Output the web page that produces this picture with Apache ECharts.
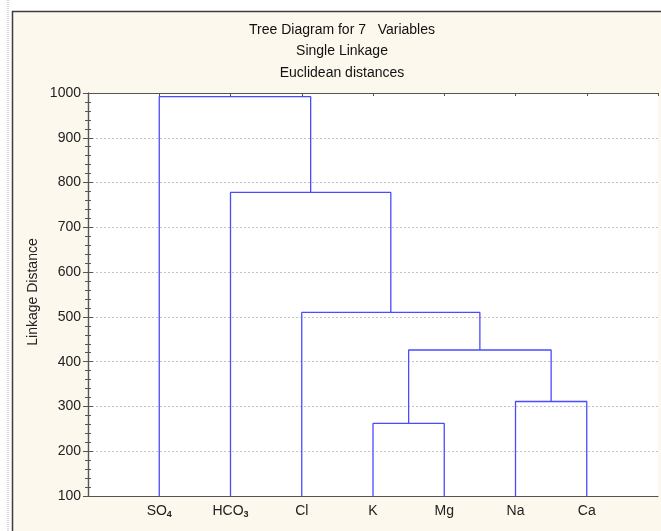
<!DOCTYPE html>
<html>
<head>
<meta charset="utf-8">
<script src="https://cdn.jsdelivr.net/npm/echarts@6/dist/echarts.min.js"></script>
<style>
  html, body { margin: 0; padding: 0; background: #ffffff; }
  #chart { width: 661px; height: 531px; }
</style>
</head>
<body>
<div id="chart"></div>
<script>
// Variables in dendrogram leaf order (trailing digits are drawn as subscripts)
const leafNames = ['SO4', 'HCO3', 'Cl', 'K', 'Mg', 'Na', 'Ca'];

// Agglomeration steps: ids 0..6 are leaves, step k creates cluster id 7 + k
const mergeLeft   = [3, 5, 7, 2, 1, 0];
const mergeRight  = [4, 6, 8, 9, 10, 11];
const mergeHeight = [262, 311, 426, 510, 778, 992];

// Linkage distance axis
const yMin = 100, yMax = 1000, yStep = 100;

const FONT = '"Liberation Sans", Arial, sans-serif';
const LINK_COLOR = '#4a4aff';
const AXIS_COLOR = '#555555';

// Position of every node: leaves at 1..n, clusters at the mean of their children
const nodeX = leafNames.map((_, i) => i + 1);
const nodeY = leafNames.map(() => yMin);
mergeLeft.forEach((a, k) => {
  const b = mergeRight[k];
  nodeX.push((nodeX[a] + nodeX[b]) / 2);
  nodeY.push(mergeHeight[k]);
});

// One bracket-shaped polyline per merge
const linkSeries = mergeLeft.map((a, k) => {
  const b = mergeRight[k];
  const h = mergeHeight[k];
  return {
    type: 'line',
    xAxisIndex: 0,
    yAxisIndex: 0,
    symbol: 'none',
    silent: true,
    animation: false,
    lineStyle: { color: LINK_COLOR, width: 1.3 },
    data: [[nodeX[a], nodeY[a]], [nodeX[a], h], [nodeX[b], h], [nodeX[b], nodeY[b]]]
  };
});

function leafLabel(v) {
  const i = Math.round(v) - 1;
  if (i < 0 || i >= leafNames.length || Math.abs(v - (i + 1)) > 1e-6) return '';
  const m = leafNames[i].match(/^(.*?)(\d+)$/);
  // plain names get an empty spacer with the same box as a subscript, so all baselines line up
  return m ? '{n|' + m[1] + '}{s|' + m[2] + '}' : '{n|' + leafNames[i] + '}{z| }';
}

const chart = echarts.init(document.getElementById('chart'), null, { renderer: 'canvas' });

chart.setOption({
  backgroundColor: '#ffffff',
  animation: false,
  graphic: [
    // outer panel
    {
      type: 'rect', z: -10, silent: true,
      shape: { x: 12.5, y: 11.5, width: 660, height: 530 },
      style: { fill: '#fdf8ed', stroke: '#3c3c3c', lineWidth: 1.5 }
    },
    {
      type: 'line', z: -10, silent: true,
      shape: { x1: 8, y1: 0, x2: 8, y2: 531 },
      style: { stroke: '#c8c8c8', lineWidth: 1.5, lineDash: [1, 1] }
    },
    // three-line heading
    {
      type: 'text', silent: true,
      style: {
        x: 342, y: 30, text: 'Tree Diagram for 7   Variables',
        align: 'center', verticalAlign: 'middle',
        font: '14px ' + FONT, fill: '#111111'
      }
    },
    {
      type: 'text', silent: true,
      style: {
        x: 342, y: 51.5, text: 'Single Linkage',
        align: 'center', verticalAlign: 'middle',
        font: '14px ' + FONT, fill: '#111111'
      }
    },
    {
      type: 'text', silent: true,
      style: {
        x: 342, y: 73, text: 'Euclidean distances',
        align: 'center', verticalAlign: 'middle',
        font: '14px ' + FONT, fill: '#111111'
      }
    },
    // vertical axis title
    {
      type: 'text', silent: true,
      x: 33, y: 292, rotation: Math.PI / 2,
      style: {
        x: 0, y: 0, text: 'Linkage Distance',
        align: 'center', verticalAlign: 'middle',
        font: '14px ' + FONT, fill: '#222222'
      }
    }
  ],
  grid: {
    left: 88, right: 3, top: 93, bottom: 35,
    show: true, backgroundColor: '#ffffff', borderWidth: 0
  },
  xAxis: [
    {
      type: 'value', position: 'bottom',
      min: 0, max: leafNames.length + 1, interval: 1,
      axisLine: { show: true, lineStyle: { color: AXIS_COLOR, width: 1.2 } },
      axisTick: { show: false },
      splitLine: { show: false },
      axisLabel: {
        show: true, margin: 8,
        formatter: leafLabel,
        rich: {
          n: { fontFamily: FONT, fontSize: 14, color: '#222222' },
          s: { fontFamily: FONT, fontSize: 9, fontWeight: 'bold', color: '#222222', padding: [6, 0, 0, 0] },
          z: { fontFamily: FONT, fontSize: 9, width: 0, color: 'rgba(0,0,0,0)', padding: [6, 0, 0, 0] }
        }
      }
    },
    {
      type: 'value', position: 'top',
      min: 0, max: leafNames.length + 1, interval: 1,
      axisLine: { show: true, lineStyle: { color: AXIS_COLOR, width: 1.2 } },
      axisTick: { show: true, inside: true, length: 3, lineStyle: { color: AXIS_COLOR } },
      axisLabel: { show: false },
      splitLine: { show: false }
    }
  ],
  yAxis: [
    {
      type: 'value', position: 'left',
      min: yMin, max: yMax, interval: yStep,
      axisLine: { show: true, lineStyle: { color: AXIS_COLOR, width: 1.2 } },
      axisTick: { show: true, inside: true, length: 5, lineStyle: { color: AXIS_COLOR } },
      minorTick: { show: true, splitNumber: 5, length: 3, lineStyle: { color: AXIS_COLOR } },
      axisLabel: {
        show: true, margin: 7, fontFamily: FONT, fontSize: 14, color: '#222222',
        formatter: (v) => String(v)
      },
      splitLine: {
        show: true, showMinLine: false, showMaxLine: false,
        lineStyle: { color: '#c4c4c4', type: [2, 2], width: 1 }
      }
    },
    {
      type: 'value', position: 'right',
      min: yMin, max: yMax, interval: yStep,
      axisLine: { show: true, lineStyle: { color: AXIS_COLOR, width: 1.2 } },
      axisTick: { show: true, inside: true, length: 5, lineStyle: { color: AXIS_COLOR } },
      minorTick: { show: true, splitNumber: 5, length: 3, lineStyle: { color: AXIS_COLOR } },
      axisLabel: { show: false },
      splitLine: { show: false }
    }
  ],
  series: linkSeries
});
</script>
</body>
</html>
